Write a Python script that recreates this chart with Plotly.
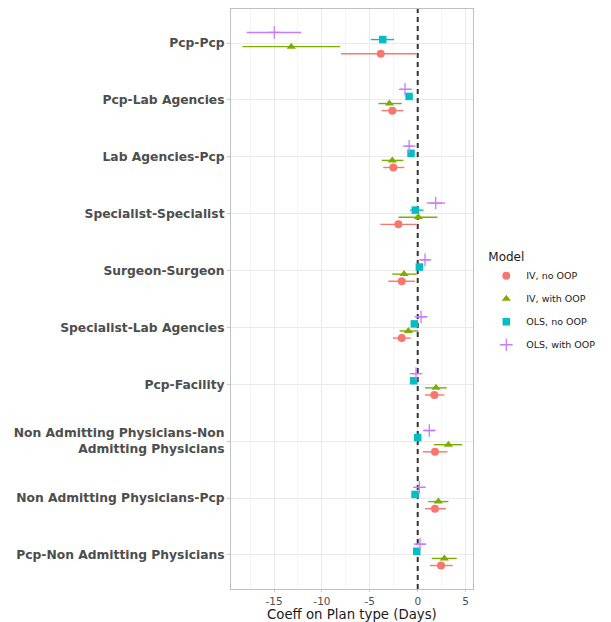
import plotly.graph_objects as go

# Interaction categories, top to bottom
categories = [
    "Pcp-Pcp",
    "Pcp-Lab Agencies",
    "Lab Agencies-Pcp",
    "Specialist-Specialist",
    "Surgeon-Surgeon",
    "Specialist-Lab Agencies",
    "Pcp-Facility",
    "Non Admitting Physicians-Non<br>Admitting Physicians",
    "Non Admitting Physicians-Pcp",
    "Pcp-Non Admitting Physicians",
]

# Point estimates and interval bounds per model
iv_no_oop = [-3.86, -2.65, -2.55, -2.02, -1.67, -1.67, 1.74, 1.80, 1.80, 2.43]
iv_no_oop_lo = [-8.0, -3.76, -3.6, -3.9, -3.07, -2.6, 0.76, 0.52, 0.76, 1.28]
iv_no_oop_hi = [-0.1, -1.5, -1.4, -0.1, -0.28, -0.73, 2.78, 3.1, 2.95, 3.65]

iv_with_oop = [-13.2, -2.96, -2.65, 0.07, -1.43, -0.98, 1.91, 3.2, 2.15, 2.78]
iv_with_oop_lo = [-18.3, -4.1, -3.76, -2.0, -2.65, -1.9, 0.76, 1.7, 1.1, 1.46]
iv_with_oop_hi = [-8.1, -1.67, -1.5, 2.05, -0.1, 0.07, 3.03, 4.65, 3.2, 4.07]

ols_no_oop = [-3.65, -0.9, -0.7, -0.25, 0.17, -0.35, -0.42, 0.0, -0.28, -0.1]
ols_no_oop_lo = [-4.9, -1.2, -1.0, -0.8, -0.1, -0.6, -0.65, -0.25, -0.5, -0.35]
ols_no_oop_hi = [-2.47, -0.6, -0.4, 0.6, 0.45, -0.1, -0.2, 0.25, -0.05, 0.15]

ols_with_oop = [-14.97, -1.33, -0.9, 1.88, 0.76, 0.35, -0.18, 1.21, 0.17, 0.24]
ols_with_oop_lo = [-17.85, -1.85, -1.3, 0.94, 0.25, -0.2, -0.6, 0.6, -0.3, -0.3]
ols_with_oop_hi = [-12.18, -0.63, -0.5, 2.85, 1.3, 0.9, 0.3, 1.8, 0.8, 0.8]

models = [
    # name, values, lo, hi, colour, symbol, dodge offset
    ("IV, no OOP", iv_no_oop, iv_no_oop_lo, iv_no_oop_hi, "#F8766D", "circle", -0.1875),
    ("IV, with OOP", iv_with_oop, iv_with_oop_lo, iv_with_oop_hi, "#7CAE00", "triangle-up", -0.0625),
    ("OLS, no OOP", ols_no_oop, ols_no_oop_lo, ols_no_oop_hi, "#00BFC4", "square", 0.0625),
    ("OLS, with OOP", ols_with_oop, ols_with_oop_lo, ols_with_oop_hi, "#C77CFF", "cross-thin-open", 0.1875),
]

n = len(categories)
base_y = [n - i for i in range(n)]  # first category at the top
y_lo, y_hi = 0.4, n + 0.6

fig = go.Figure()

# Reference line at zero
fig.add_trace(go.Scatter(
    x=[0, 0], y=[y_lo, y_hi], mode="lines", showlegend=False, hoverinfo="skip",
    line=dict(color="#333333", width=2, dash="5px,4px"),
))

for name, vals, lo, hi, col, sym, off in models:
    ys = [b + off for b in base_y]
    plus = [h - v for v, h in zip(vals, hi)]
    minus = [v - l for v, l in zip(vals, lo)]
    is_cross = sym == "cross-thin-open"
    fig.add_trace(go.Scatter(
        x=vals, y=ys, mode="markers", name=name, legendgroup=name,
        marker=dict(
            symbol=sym, color=col,
            size=9 if is_cross else (8 if sym != "square" else 7.5),
            line=dict(color=col, width=1.3 if is_cross else 0),
        ),
        error_x=dict(type="data", symmetric=False, array=plus, arrayminus=minus,
                     color=col, thickness=1.4, width=0),
    ))

# x-axis title placed beneath the tick labels
fig.add_annotation(
    text="Coeff on Plan type (Days)", xref="paper", yref="paper",
    x=0.5, y=0, xanchor="center", yanchor="bottom", yshift=-34,
    showarrow=False, borderpad=0,
    font=dict(size=13.3, color="#1a1a1a", family="DejaVu Sans"),
)

fig.update_layout(
    width=611, height=622,
    margin=dict(l=231, r=138, t=9, b=33, autoexpand=False),
    paper_bgcolor="white", plot_bgcolor="white",
    font=dict(family="DejaVu Sans", color="#1a1a1a"),
    showlegend=True,
    legend=dict(
        title=dict(text="Model", font=dict(size=12, color="#1a1a1a")),
        x=1.055, xanchor="left", y=0.592, yanchor="top",
        font=dict(size=9.5, color="#1a1a1a"),
        traceorder="grouped", tracegroupgap=4,
        bgcolor="rgba(0,0,0,0)",
    ),
    xaxis=dict(
        range=[-19.49, 5.77], tickmode="array", automargin=False,
        tickvals=[-15, -10, -5, 0, 5], ticktext=["-15", "-10", "-5", "0", "5"],
        showgrid=True, gridcolor="#ebebeb", gridwidth=1,
        minor=dict(tickvals=[-17.5, -12.5, -7.5, -2.5, 2.5], showgrid=True,
                   gridcolor="#f4f4f4", gridwidth=1),
        zeroline=False,
        ticks="outside", ticklen=2, tickcolor="#c8c8c8",
        tickfont=dict(size=10.5, color="#4d4d4d"),
        showline=True, linecolor="#c0c0c0", mirror=True,
    ),
    yaxis=dict(
        range=[y_lo, y_hi], tickmode="array", automargin=False,
        tickvals=base_y, ticktext=["<b>%s</b>" % c for c in categories],
        showgrid=True, gridcolor="#ebebeb", gridwidth=1,
        zeroline=False,
        ticks="outside", ticklen=3, tickcolor="#c8c8c8",
        tickfont=dict(size=12.3, color="#4d4d4d"),
        showline=True, linecolor="#c0c0c0", mirror=True,
    ),
)

fig.write_html("out.html")
